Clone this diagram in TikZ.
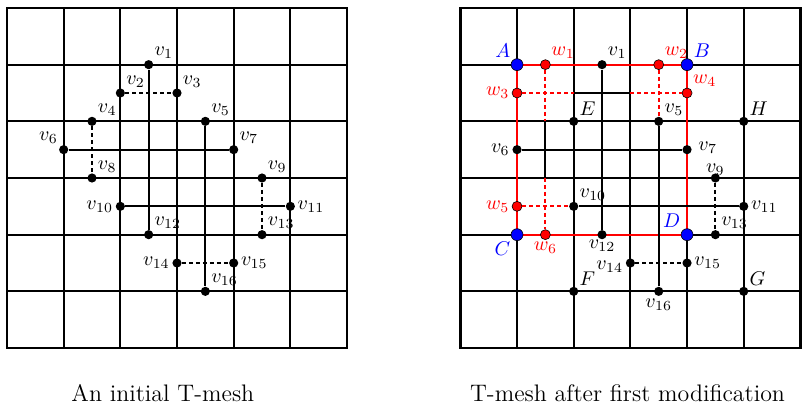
\documentclass[tikz,border=0pt]{standalone}
\usetikzlibrary{positioning}
\tikzset{
  meshline/.style={line width=1pt},
  tline/.style={line width=1pt},
  tdash/.style={line width=1pt, dash pattern=on 2pt off 1.5pt},
  rline/.style={line width=1pt, red},
  rdash/.style={line width=1pt, red, dash pattern=on 2pt off 1.5pt},
  vtx/.style={circle, fill=black, inner sep=0pt, minimum size=4.6pt},
  wvtx/.style={circle, fill=red, draw=black, line width=0.3pt, inner sep=0pt, minimum size=5pt},
  cvtx/.style={circle, fill=blue, draw=black, line width=0.3pt, inner sep=0pt, minimum size=6pt},
  every label/.style={inner sep=1pt},
  label distance=0pt,
}
\begin{document}
\begin{tikzpicture}
\useasboundingbox (-0.1235,-1.0588) rectangle (14.152,6.141);
% left mesh
\draw[meshline] (0,0) grid (6,6);
\draw[line width=1.3pt] (0,0) rectangle (6,6);
\node[vtx, label={above right:$v_1$}] (v1) at (2.5,5) {};
\node[vtx, label={above right:$v_2$}] (v2) at (2,4.5) {};
\node[vtx, label={above right:$v_3$}] (v3) at (3,4.5) {};
\node[vtx, label={above right:$v_4$}] (v4) at (1.5,4) {};
\node[vtx, label={above right:$v_5$}] (v5) at (3.5,4) {};
\node[vtx, label={above left:$v_6$}] (v6) at (1,3.5) {};
\node[vtx, label={above right:$v_7$}] (v7) at (4,3.5) {};
\node[vtx, label={above right:$v_8$}] (v8) at (1.5,3) {};
\node[vtx, label={above right:$v_9$}] (v9) at (4.5,3) {};
\node[vtx, label={left:$v_{10}$}] (v10) at (2,2.5) {};
\node[vtx, label={right:$v_{11}$}] (v11) at (5,2.5) {};
\node[vtx, label={above right:$v_{12}$}] (v12) at (2.5,2) {};
\node[vtx, label={above right:$v_{13}$}] (v13) at (4.5,2) {};
\node[vtx, label={left:$v_{14}$}] (v14) at (3,1.5) {};
\node[vtx, label={right:$v_{15}$}] (v15) at (4,1.5) {};
\node[vtx, label={above right:$v_{16}$}] (v16) at (3.5,1) {};
\draw[tline] (v1) -- (v12);
\draw[tline] (v5) -- (v16);
\draw[tline] (v6) -- (v7);
\draw[tline] (v10) -- (v11);
\draw[tdash] (v2) -- (v3);
\draw[tdash] (v4) -- (v8);
\draw[tdash] (v9) -- (v13);
\draw[tdash] (v14) -- (v15);
\node[font=\large] (capl) at (2.75,-0.79) {An initial T-mesh};

% right mesh
\begin{scope}[xshift=8cm]
\draw[meshline] (0,0) grid (6,6);
\draw[line width=1.3pt] (0,0) rectangle (6,6);
\coordinate (m1) at (2,4.5);
\coordinate (m2) at (3,4.5);
\coordinate (m3) at (1.5,4);
\coordinate (m4) at (1.5,3);
% red box
\draw[rline] (1,5) rectangle (4,2);
\node[cvtx, label={[blue]above left:$A$}] (A) at (1,5) {};
\node[cvtx, label={[blue]above right:$B$}] (B) at (4,5) {};
\node[cvtx, label={[blue]below left:$C$}] (C) at (1,2) {};
\node[cvtx, label={[blue]above left:$D$}] (D) at (4,2) {};
\node[wvtx, label={[red]above right:$w_1$}] (w1) at (1.5,5) {};
\node[wvtx, label={[red]above right:$w_2$}] (w2) at (3.5,5) {};
\node[wvtx, label={[red]left:$w_3$}] (w3) at (1,4.5) {};
\node[wvtx, label={[red]above right:$w_4$}] (w4) at (4,4.5) {};
\node[wvtx, label={[red]left:$w_5$}] (w5) at (1,2.5) {};
\node[wvtx, label={[red]below:$w_6$}] (w6) at (1.5,2) {};
\node[vtx, label={above right:$E$}] (E) at (2,4) {};
\node[vtx, label={above right:$H$}] (H) at (5,4) {};
\node[vtx, label={above right:$F$}] (F) at (2,1) {};
\node[vtx, label={above right:$G$}] (G) at (5,1) {};
\node[vtx, label={above right:$v_1$}] (r1) at (2.5,5) {};
\node[vtx, label={above right:$v_5$}] (r5) at (3.5,4) {};
\node[vtx, label={left:$v_6$}] (r6) at (1,3.5) {};
\node[vtx, label={[xshift=2pt, yshift=1pt]right:$v_7$}] (r7) at (4,3.5) {};
\node[vtx, label={[label distance=-2.5pt]above:$v_9$}] (r9) at (4.5,3) {};
\node[vtx, label={above right:$v_{10}$}] (r10) at (2,2.5) {};
\node[vtx, label={right:$v_{11}$}] (r11) at (5,2.5) {};
\node[vtx, label={[label distance=-1pt]below:$v_{12}$}] (r12) at (2.5,2) {};
\node[vtx, label={above right:$v_{13}$}] (r13) at (4.5,2) {};
\node[vtx, label={[yshift=-2pt]left:$v_{14}$}] (r14) at (3,1.5) {};
\node[vtx, label={right:$v_{15}$}] (r15) at (4,1.5) {};
\node[vtx, label={below:$v_{16}$}] (r16) at (3.5,1) {};
\draw[tline] (r1) -- (r12);
\draw[tline] (r5) -- (r16);
\draw[tline] (r6) -- (r7);
\draw[tline] (r10) -- (r11);
\draw[tline] (m1) -- (m2);
\draw[tline] (m3) -- (m4);
\draw[tdash] (r9) -- (r13);
\draw[tdash] (r14) -- (r15);
\draw[rdash] (w3) -- (m1);
\draw[rdash] (m2) -- (w4);
\draw[rdash] (w1) -- (m3);
\draw[rdash] (m4) -- (w6);
\draw[rdash] (w2) -- (r5);
\draw[rdash] (w5) -- (r10);
\node[font=\large] (capr) at (2.95,-0.79) {T-mesh after first modification};
\end{scope}
\end{tikzpicture}
\end{document}
